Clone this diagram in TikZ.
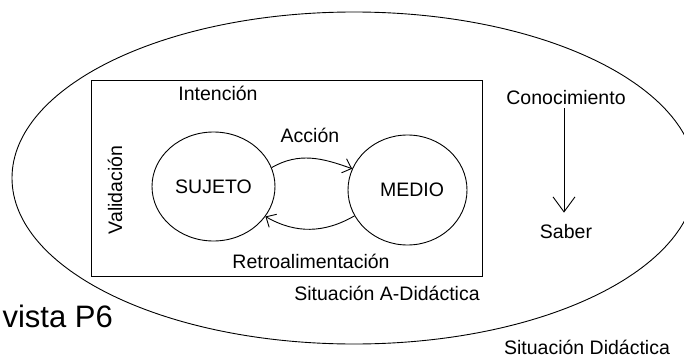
\documentclass[tikz,border=0pt]{standalone}
\usepackage{fontspec}
\setmainfont{Liberation Sans}
\usetikzlibrary{arrows.meta,shapes.geometric}
\tikzset{
  lbl/.style={inner sep=0pt, font=\fontsize{19.5}{22}\selectfont},
  blob/.style={draw, ellipse, line width=0.9pt, inner sep=0pt, font=\fontsize{19.5}{22}\selectfont},
  thin line/.style={line width=0.9pt},
  arr/.style={thin line, -{Straight Barb[length=8pt,width=15pt,line width=0.9pt]}},
  bigarr/.style={thin line, -{Straight Barb[length=15pt,width=22pt,line width=0.9pt]}}
}
\begin{document}
\begin{tikzpicture}[x=1pt,y=-1pt]
\useasboundingbox (0,0) rectangle (684,358);
% outer ellipse
\node[draw, ellipse, thin line, minimum width=684pt, minimum height=332pt, inner sep=0pt] (ell) at (354,178) {};
% rectangle
\node[draw, rectangle, thin line, minimum width=391pt, minimum height=196pt, inner sep=0pt] (box) at (286.5,178) {};
% circles
\node[blob, minimum width=123pt, minimum height=109pt] (suj) at (213.5,186.5) {SUJETO};
\node[blob, minimum width=119pt, minimum height=110pt] (med) at (407.5,190) {\hspace*{9pt}MEDIO};
% labels
\node[lbl] (int) at (218,93) {Intención};
\node[lbl] (acc) at (310,135) {Acción};
\node[lbl, rotate=90] (val) at (115,190) {Validación};
\node[lbl] (ret) at (311,261) {Retroalimentación};
\node[lbl] (sad) at (387,293) {Situación A-Didáctica};
\node[inner sep=0pt, anchor=base east, font=\fontsize{31}{36}\selectfont] (vis) at (113,327) {vista P6};
\node[lbl] (con) at (566,98) {Conocimiento};
\node[lbl] (sab) at (566,232) {Saber};
\node[lbl, anchor=base] (sdi) at (587,354) {Situación Didáctica};
% arrows
\draw[arr] (suj.18) to[out=30,in=160] (med.159);
\draw[arr] (med.206) to[out=210,in=-30] (suj.330);
\draw[bigarr, shorten <=3pt, shorten >=12pt] ([xshift=-2pt]con.south) -- ([xshift=-2pt]sab.north);
\end{tikzpicture}
\end{document}
